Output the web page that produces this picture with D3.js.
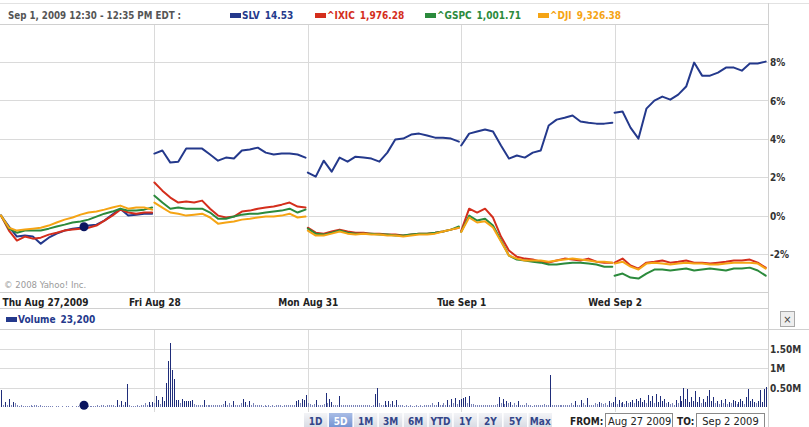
<!DOCTYPE html>
<html><head><meta charset="utf-8">
<script src="https://cdn.jsdelivr.net/npm/d3@7"></script>
<style>
html,body{margin:0;padding:0;background:#fff;}
svg{display:block;}
text{font-family:"DejaVu Sans Condensed","DejaVu Sans",sans-serif;}
</style></head><body>
<svg id="c" width="809" height="427"></svg>
<script>
// ---------------- DATA ----------------
const days = ["Thu Aug 27,2009","Fri Aug 28","Mon Aug 31","Tue Sep 1","Wed Sep 2"];
const headerText = "Sep 1, 2009 12:30 - 12:35 PM EDT :";
const pctTicks = [8,6,4,2,0,-2];
const volTicks = [0.5,1,1.5];
const volTickLabels = ["0.50M","1M","1.50M"];
const seriesNames = ["SLV","^IXIC","^GSPC","^DJI"];
const seriesQuotes = ["14.53","1,976.28","1,001.71","9,326.38"];
const seriesColors = ["#24398c","#d42e1c","#2b8a3c","#f5a414"];
const volumeLabel = "Volume";
const volumeQuote = "23,200";
const rangeButtons = ["1D","5D","1M","3M","6M","YTD","1Y","2Y","5Y","Max"];
const selectedRange = "5D";
const fromDate = "Aug 27 2009";
const toDate = "Sep 2 2009";
const hoverTime = 0.541; // fraction of first day

// percent change, one array per trading day
const slv = [
 [0,-0.57,-1.09,-1.04,-1.09,-1.46,-1.15,-0.94,-0.78,-0.68,-0.63,-0.52,-0.47,-0.26,0.05,0.36,0,0.05,0.1,0.1],
 [3.23,3.39,2.76,2.81,3.49,3.49,3.49,3.18,2.86,3.02,2.97,3.39,3.44,3.54,3.28,3.18,3.23,3.23,3.18,3.02],
 [2.24,2.03,2.86,2.29,3.02,2.81,3.07,3.02,2.97,2.81,3.28,3.96,4.01,4.22,4.27,4.17,4.06,4.06,4.01,3.85],
 [3.65,4.27,4.38,4.48,4.38,3.65,2.97,3.13,3.02,3.28,3.39,4.69,5.0,5.10,5.21,4.90,4.84,4.79,4.79,4.84],
 [5.36,5.42,4.58,4.01,5.57,5.99,6.20,6.04,6.30,6.72,7.97,7.29,7.29,7.45,7.71,7.71,7.55,7.92,7.92,8.02]
];
const ixic = [
 [0,-0.78,-1.3,-1.09,-1.2,-1.15,-0.99,-0.89,-0.78,-0.73,-0.68,-0.63,-0.52,-0.26,0,0.31,0.16,0.1,0.16,0.16],
 [1.72,1.30,0.94,0.68,0.73,0.68,0.78,0.36,0,-0.1,-0.05,0.21,0.26,0.36,0.42,0.47,0.57,0.68,0.47,0.42],
 [-0.63,-0.89,-0.94,-0.83,-0.73,-0.83,-0.89,-0.89,-0.94,-0.94,-0.99,-0.99,-1.04,-0.99,-0.94,-0.94,-0.89,-0.83,-0.73,-0.63],
 [-0.8,0.36,0.16,0.36,-0.1,-1.09,-1.82,-2.14,-2.24,-2.29,-2.40,-2.45,-2.34,-2.24,-2.29,-2.34,-2.24,-2.40,-2.45,-2.45],
 [-2.45,-2.24,-2.60,-2.76,-2.45,-2.40,-2.34,-2.45,-2.40,-2.34,-2.45,-2.45,-2.50,-2.45,-2.40,-2.34,-2.34,-2.29,-2.45,-2.71]
];
const gspc = [
 [0,-0.68,-0.89,-0.78,-0.78,-0.78,-0.68,-0.57,-0.47,-0.36,-0.31,-0.21,-0.05,0.1,0.21,0.36,0.26,0.26,0.31,0.42],
 [1.04,0.68,0.36,0.42,0.36,0.36,0.36,0.16,-0.16,-0.16,-0.05,0.05,0.1,0.1,0.16,0.21,0.26,0.36,0.16,0.31],
 [-0.68,-0.94,-0.99,-0.89,-0.78,-0.89,-0.94,-0.94,-0.94,-0.99,-0.99,-1.04,-1.04,-0.99,-0.94,-0.94,-0.89,-0.83,-0.73,-0.57],
 [-0.85,0,-0.26,-0.16,-0.52,-1.30,-2.08,-2.29,-2.34,-2.40,-2.45,-2.55,-2.55,-2.50,-2.45,-2.45,-2.50,-2.55,-2.66,-2.66],
 [-3.13,-3.02,-3.23,-3.28,-3.02,-2.81,-2.81,-2.86,-2.81,-2.76,-2.86,-2.81,-2.76,-2.81,-2.86,-2.76,-2.76,-2.71,-2.86,-3.13]
];
const dji = [
 [0,-0.63,-0.78,-0.73,-0.68,-0.63,-0.52,-0.36,-0.21,-0.1,0.05,0.16,0.21,0.31,0.42,0.52,0.36,0.42,0.42,0.31],
 [0.68,0.42,0.16,0.1,0,0.05,0.1,-0.1,-0.42,-0.36,-0.31,-0.21,-0.16,-0.1,-0.05,-0.05,0,0.1,-0.1,-0.05],
 [-0.78,-1.04,-1.04,-0.94,-0.83,-0.94,-0.99,-0.94,-0.99,-0.99,-1.04,-1.04,-1.09,-1.04,-0.99,-0.99,-0.94,-0.83,-0.73,-0.63],
 [-0.85,-0.1,-0.36,-0.3,-0.62,-1.35,-2.08,-2.24,-2.34,-2.34,-2.34,-2.40,-2.34,-2.29,-2.24,-2.29,-2.34,-2.40,-2.40,-2.45],
 [-2.50,-2.40,-2.66,-2.81,-2.50,-2.45,-2.50,-2.55,-2.50,-2.45,-2.50,-2.50,-2.55,-2.55,-2.50,-2.45,-2.45,-2.45,-2.50,-2.76]
];
// volume in millions, 5-minute bars, one array per trading day
const volume = [
 [0.44,0.05,0.13,0.04,0.20,0.05,0.13,0.10,0.04,0.03,0.04,0.02,0.03,0.02,0.03,0.05,0.03,0.06,0.04,0.03,0.05,
  0.02,0.03,0.02,0.02,0.03,0.02,0.01,0.02,0.02,0.01,0.02,0.01,0.02,0.02,0.01,0.02,0.01,0.02,0.02,0.01,
  0.02,0.02,0.03,0.02,0.03,0.02,0.03,0.03,0.04,0.03,0.04,0.05,0.03,0.04,0.06,0.05,0.04,0.03,
  0.18,0.06,0.15,0.05,0.12,0.59,0.05,0.03,0.02,0.03,0.04,0.03,0.05,0.04,0.10,0.06,0.13,0.05,0.13],
 [0.10,0.28,0.18,0.08,0.26,0.15,0.62,1.19,1.66,0.95,0.73,0.18,0.18,0.10,0.21,0.15,0.15,0.15,0.15,0.18,0.08,
  0.04,0.05,0.04,0.05,0.18,0.05,0.04,0.05,0.04,0.05,0.06,0.05,0.04,
  0.06,0.08,0.15,0.05,0.10,0.05,0.15,0.05,0.06,0.05,0.10,0.21,0.13,0.05,0.15,0.05,0.10,
  0.05,0.04,0.05,0.04,0.03,0.04,0.03,0.04,0.03,0.04,0.03,0.04,0.05,0.04,0.03,0.04,0.05,0.04,0.05,0.06,
  0.06,0.15,0.18,0.10,0.20,0.18,0.31],
 [0.10,0.08,0.06,0.07,0.18,0.05,0.05,0.05,0.08,0.36,0.10,0.21,0.13,0.06,0.05,0.05,0.28,0.06,0.05,0.05,0.06,0.05,
  0.05,0.04,0.05,0.04,0.05,0.06,0.05,0.04,0.05,
  0.04,0.03,0.05,0.34,0.50,0.10,0.05,0.04,0.15,0.05,
  0.16,0.08,0.15,0.06,0.18,0.05,0.04,0.05,0.03,0.04,
  0.03,0.04,0.02,0.03,0.04,0.03,0.04,0.03,0.05,0.04,
  0.05,0.04,0.10,0.05,0.04,0.13,0.05,0.04,0.10,0.05,
  0.18,0.05,0.21,0.10,0.23,0.08,0.18],
 [0.21,0.23,0.26,0.10,0.28,0.07,0.08,0.05,0.06,0.05,
  0.05,0.04,0.05,0.04,0.05,0.04,0.05,0.06,0.08,0.26,0.10,
  0.20,0.08,0.15,0.10,0.13,0.06,0.10,0.05,0.15,0.06,
  0.05,0.04,0.10,0.05,0.04,0.03,0.05,0.04,0.06,0.05,
  0.06,0.08,0.05,0.06,0.82,0.05,
  0.06,0.05,0.06,0.04,0.05,0.04,0.05,0.06,0.05,
  0.10,0.05,0.15,0.06,0.05,0.18,0.10,0.05,0.23,0.06,
  0.05,0.06,0.10,0.08,0.12,0.10,0.08,0.10,0.06,0.15,0.10,0.13],
 [0.26,0.08,0.18,0.10,0.13,0.08,0.15,0.10,0.13,0.18,
  0.10,0.21,0.15,0.23,0.13,0.18,0.10,0.31,0.15,0.28,
  0.10,0.33,0.13,0.28,0.15,0.20,0.10,0.13,0.08,0.10,
  0.06,0.18,0.10,0.28,0.15,0.50,0.20,0.46,0.13,0.26,
  0.15,0.41,0.13,0.26,0.10,0.21,0.13,0.28,0.44,0.15,
  0.26,0.10,0.15,0.08,0.18,0.10,0.21,0.08,0.13,0.10,
  0.18,0.15,0.08,0.13,0.21,0.15,0.08,0.26,0.46,0.15,
  0.21,0.13,0.10,0.15,0.44,0.13,0.46,0.52]
];

// ---------------- CHART ----------------
const svg = d3.select("#c");
const gridC = "#dadada", frameC = "#d0d0d0";
const FONT = '"DejaVu Sans Condensed","DejaVu Sans",sans-serif';
const x = d3.scaleLinear().domain([0, days.length]).range([1, 768]);
const y = d3.scaleLinear().domain([-2, 8]).range([254, 62]);
const yv = d3.scaleLinear().domain([0, 1.5]).range([407, 349]);

function hline(x1, x2, yy, c){ svg.append("line").attr("x1",x1).attr("x2",x2).attr("y1",yy).attr("y2",yy).attr("stroke",c).attr("shape-rendering","crispEdges"); }
function vline(xx, y1, y2, c){ svg.append("line").attr("x1",xx).attr("x2",xx).attr("y1",y1).attr("y2",y2).attr("stroke",c).attr("shape-rendering","crispEdges"); }

// frame
hline(0, 809, 3.5, "#e2e2e2");
hline(0, 768, 24.5, frameC);
hline(0, 768, 292.5, frameC);
hline(0, 768, 308.5, frameC);
hline(0, 809, 329.5, frameC);
vline(768.5, 3, 427, frameC);

// main grid
const gy = svg.append("g")
  .call(d3.axisRight(y).tickValues(pctTicks).tickSize(768).tickFormat(""));
gy.select(".domain").remove();
gy.selectAll("line").attr("stroke", gridC).attr("shape-rendering","crispEdges");
[1,2,3,4].forEach(d => vline(Math.round(x(d))+0.5, 25, 292, gridC));

// pct labels
const ly = svg.append("g").attr("transform","translate(768,0)")
  .call(d3.axisRight(y).tickValues(pctTicks).tickSize(0).tickPadding(2).tickFormat(d => d + "%"));
ly.select(".domain").remove();
ly.selectAll("text").attr("font-family",FONT)
  .attr("font-size",10).attr("font-weight","bold").attr("fill","#333").attr("dy","0.36em");

// volume grid
const gv = svg.append("g")
  .call(d3.axisRight(yv).tickValues(volTicks).tickSize(768).tickFormat(""));
gv.select(".domain").remove();
gv.selectAll("line").attr("stroke", gridC).attr("shape-rendering","crispEdges");
[1,2,3,4].forEach(d => vline(Math.round(x(d))+0.5, 330, 412, gridC));
const lv = svg.append("g").attr("transform","translate(768,0)")
  .call(d3.axisRight(yv).tickValues(volTicks).tickSize(0).tickPadding(2).tickFormat((d,i) => volTickLabels[i]));
lv.select(".domain").remove();
lv.selectAll("text").attr("font-family",FONT)
  .attr("font-size",10).attr("font-weight","bold").attr("fill","#333").attr("dy","0.36em");

// volume bars
volume.forEach((arr, d) => {
  svg.append("g").selectAll("line").data(arr).join("line")
    .attr("x1", (v,i) => Math.round(x(d + i/78)) + 0.5)
    .attr("x2", (v,i) => Math.round(x(d + i/78)) + 0.5)
    .attr("y1", yv(0)).attr("y2", v => yv(v))
    .attr("stroke", v => v > 0.1 ? "#1f2d7a" : "#7a83b8")
    .attr("shape-rendering","crispEdges");
});

// series lines
const line = d3.line().x(p => x(p[0])).y(p => y(p[1]));
[slv, ixic, gspc, dji].forEach((s, k) => {
  s.forEach((vals, d) => {
    const n = vals.length;
    const pts = vals.map((v,i) => [d + i/(n-1)*0.985, v]);
    svg.append("path").datum(pts).attr("d", line)
      .attr("fill","none").attr("stroke", seriesColors[k]).attr("stroke-width", 2)
      .attr("stroke-linejoin","round").attr("stroke-linecap","round");
  });
});

// hover markers
{
  const vals = slv[0], n = vals.length;
  const f = hoverTime / 0.985 * (n-1), i0 = Math.floor(f), fr = f - i0;
  const v = vals[i0]*(1-fr) + vals[i0+1]*fr;
  svg.append("circle").attr("cx", x(hoverTime)).attr("cy", y(v)).attr("r", 4.5).attr("fill","#0b1660");
  const vi = Math.round(hoverTime*78);
  svg.append("circle").attr("cx", x(hoverTime)).attr("cy", yv(volume[0][vi]) - 1).attr("r", 4.5).attr("fill","#0b1660");
}

// copyright
svg.append("text").attr("x", 4).attr("y", 287.5).attr("font-size", 9.5).attr("fill","#9a9a9a")
  .text("© 2008 Yahoo! Inc.");

// date axis
const ax = svg.append("g").attr("transform","translate(0,293)")
  .call(d3.axisBottom(x).tickValues([0,1,2,3,4]).tickSize(0).tickPadding(6).tickFormat(i => days[i]));
ax.select(".domain").remove();
ax.selectAll("text").attr("font-family",FONT)
  .attr("font-size",10).attr("font-weight","bold").attr("fill","#222")
  .attr("text-anchor", (d,i) => i === 0 ? "start" : "middle").attr("dx", (d,i) => i === 0 ? 1 : 0);

// header
svg.append("text").attr("x", 8).attr("y", 18.5).attr("font-size", 9.7).attr("font-weight","bold")
  .attr("fill","#555").text(headerText);
const legX = [230, 315, 425, 538];
seriesNames.forEach((nm, k) => {
  svg.append("rect").attr("x", legX[k]).attr("y", 13).attr("width", 11).attr("height", 5).attr("fill", seriesColors[k]);
  const t = svg.append("text").attr("x", legX[k] + 12).attr("y", 18.5).attr("font-size", 10)
    .attr("font-weight","bold").attr("fill", seriesColors[k]);
  t.append("tspan").text(nm);
  t.append("tspan").attr("dx", 5).text(seriesQuotes[k]);
});

// volume header
svg.append("rect").attr("x", 6).attr("y", 317).attr("width", 11).attr("height", 5).attr("fill", seriesColors[0]);
{
  const t = svg.append("text").attr("x", 18).attr("y", 323).attr("font-size", 10).attr("font-weight","bold").attr("fill", seriesColors[0]);
  t.append("tspan").text(volumeLabel);
  t.append("tspan").attr("dx", 5).text(volumeQuote);
}

// close box
svg.append("rect").attr("x", 780.5).attr("y", 311.5).attr("width", 14).attr("height", 15)
  .attr("fill","#eeeeee").attr("stroke","#a8a8a8");
svg.append("text").attr("x", 787.5).attr("y", 323).attr("text-anchor","middle").attr("font-size", 11)
  .attr("fill","#444").text("×");

// range buttons
const defs = svg.append("defs");
const g1 = defs.append("linearGradient").attr("id","bg").attr("x1",0).attr("x2",0).attr("y1",0).attr("y2",1);
g1.append("stop").attr("offset",0).attr("stop-color","#f3f4f7");
g1.append("stop").attr("offset",1).attr("stop-color","#d6d9e2");
const g2 = defs.append("linearGradient").attr("id","bs").attr("x1",0).attr("x2",0).attr("y1",0).attr("y2",1);
g2.append("stop").attr("offset",0).attr("stop-color","#a9bde6");
g2.append("stop").attr("offset",1).attr("stop-color","#6f8fd0");
const bx = d3.scaleBand().domain(rangeButtons).range([304, 552]).paddingInner(0.06);
const bg = svg.append("g").selectAll("g").data(rangeButtons).join("g");
bg.append("rect").attr("x", d => bx(d)).attr("y", 413).attr("width", bx.bandwidth()).attr("height", 16)
  .attr("fill", d => d === selectedRange ? "url(#bs)" : "url(#bg)");
bg.append("text").attr("x", d => bx(d) + bx.bandwidth()/2).attr("y", 424.5).attr("text-anchor","middle")
  .attr("font-size", 10).attr("font-weight","bold")
  .attr("fill", d => d === selectedRange ? "#ffffff" : "#33468a").text(d => d);

// date inputs
const INFONT = '"Liberation Sans",Arial,sans-serif';
svg.append("text").attr("x", 570).attr("y", 424.5).attr("font-size", 10).attr("font-weight","bold").attr("fill","#222").text("FROM:");
svg.append("rect").attr("x", 605.5).attr("y", 413.5).attr("width", 67).attr("height", 16).attr("fill","#fff").attr("stroke","#8a8a8a");
svg.append("text").attr("x", 608).attr("y", 425).attr("font-family",INFONT).attr("font-size", 11).attr("fill","#222").text(fromDate);
svg.append("text").attr("x", 677).attr("y", 424.5).attr("font-size", 10).attr("font-weight","bold").attr("fill","#222").text("TO:");
svg.append("rect").attr("x", 696.5).attr("y", 413.5).attr("width", 68).attr("height", 16).attr("fill","#fff").attr("stroke","#8a8a8a");
svg.append("text").attr("x", 730.5).attr("y", 425).attr("text-anchor","middle").attr("font-family",INFONT).attr("font-size", 11).attr("fill","#222").text(toDate);
</script>
</body></html>
